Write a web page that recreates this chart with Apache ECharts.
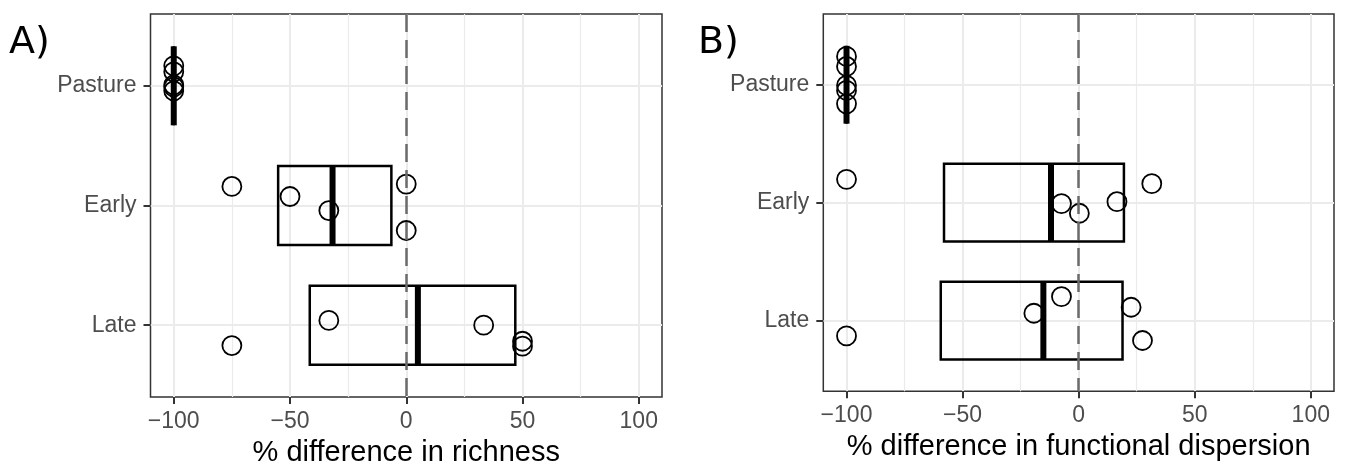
<!DOCTYPE html>
<html>
<head>
<meta charset="utf-8">
<script src="https://cdn.jsdelivr.net/npm/echarts@6/dist/echarts.min.js"></script>
<style>
  html, body { margin: 0; padding: 0; background: #fff; }
  #chart { width: 1346px; height: 465px; }
</style>
</head>
<body>
<div id="chart"></div>
<script>
// categories, top to bottom
const categories = ["Pasture", "Early", "Late"];
const xTicks = [-100, -50, 0, 50, 100];
const xMinorTicks = [-75, -25, 25, 75];

// A) richness: crossbar low / mean / high per category
const richLow = [-100, -55.1, -41.5];
const richMean = [-100, -31.7, 5.0];
const richHigh = [-100, -6.4, 46.9];
// points per category and their vertical jitter (in category units)
const richPoints = [
  [-100, -100, -100, -100, -100],
  [-75, -50, -33.3, 0, 0],
  [-75, -33.3, 33.3, 50, 50]
];
const richJitter = [
  [-0.167, -0.117, -0.008, 0.01, 0.042],
  [-0.159, -0.075, 0.042, -0.179, 0.209],
  [0.17, -0.04, 0, 0.134, 0.175]
];

// B) functional dispersion
const dispLow = [-100, -58.0, -59.4];
const dispMean = [-100, -11.9, -15.2];
const dispHigh = [-100, 19.5, 18.9];
const dispPoints = [
  [-100, -100, -100, -100, -100],
  [-100, -7.4, 0.3, 16.5, 31.5],
  [-100, -19.3, -7.4, 22.6, 27.5]
];
const dispJitter = [
  [-0.24, -0.155, 0.006, 0.048, 0.162],
  [-0.198, 0.008, 0.09, -0.008, -0.161],
  [0.13, -0.062, -0.203, -0.113, 0.169]
];

const boxHalf = 0.33;
const labelFont = "Liberation Sans";

const chart = echarts.init(document.getElementById("chart"));

function crossbarItem(params, api) {
  const y = api.value(0);
  const a = api.coord([api.value(1), y - boxHalf]);
  const b = api.coord([api.value(3), y + boxHalf]);
  const m1 = api.coord([api.value(2), y - boxHalf]);
  const m2 = api.coord([api.value(2), y + boxHalf]);
  const top = Math.min(a[1], b[1]);
  const h = Math.abs(b[1] - a[1]);
  return {
    type: "group",
    children: [
      {
        type: "rect",
        shape: { x: a[0], y: top, width: b[0] - a[0], height: h },
        style: { fill: "none", stroke: "#000", lineWidth: 2.5 }
      },
      {
        type: "line",
        shape: { x1: m1[0], y1: m1[1], x2: m2[0], y2: m2[1] },
        style: { stroke: "#000", lineWidth: 6 }
      }
    ]
  };
}

function barData(low, mean, high) {
  return categories.map((c, i) => [i + 1, low[i], mean[i], high[i]]);
}

function pointData(points, jitter) {
  const out = [];
  points.forEach((vals, i) => {
    vals.forEach((v, j) => out.push([v, i + 1 + jitter[i][j]]));
  });
  return out;
}

const fmtX = v => (v < 0 ? "\u2212" + Math.abs(v) : String(v));

function mainX(gridIndex, name) {
  return {
    type: "value", gridIndex: gridIndex, min: -110, max: 110,
    name: name, nameLocation: "middle", nameGap: 41,
    nameTextStyle: { fontFamily: labelFont, fontSize: 29, color: "#000" },
    axisLine: { show: false, onZero: false },
    axisTick: { show: true, length: 7, customValues: xTicks, lineStyle: { color: "#333", width: 2 } },
    axisLabel: { customValues: xTicks, formatter: fmtX, margin: 13, fontFamily: labelFont, fontSize: 23, color: "#4d4d4d" },
    splitLine: { show: true, lineStyle: { color: "#ebebeb", width: 2 } }
  };
}

function minorX(gridIndex) {
  return {
    type: "value", gridIndex: gridIndex, min: -110, max: 110, position: "top",
    axisLine: { show: false, onZero: false },
    axisTick: { show: false, customValues: xMinorTicks },
    axisLabel: { show: false, customValues: xMinorTicks },
    splitLine: { show: true, lineStyle: { color: "#ebebeb", width: 1.2 } }
  };
}

function catY(gridIndex) {
  return {
    type: "value", gridIndex: gridIndex, min: 0.4, max: 3.6, inverse: true,
    axisLine: { show: false, onZero: false },
    axisTick: { show: true, length: 7, customValues: [1, 2, 3], lineStyle: { color: "#333", width: 2 } },
    axisLabel: {
      customValues: [1, 2, 3], margin: 14,
      formatter: v => categories[Math.round(v) - 1],
      fontFamily: labelFont, fontSize: 23, color: "#4d4d4d"
    },
    splitLine: { show: true, lineStyle: { color: "#ebebeb", width: 2 } }
  };
}

function panelSeries(xIdx, yIdx, low, mean, high, points, jitter) {
  return [
    {
      type: "line", xAxisIndex: xIdx, yAxisIndex: yIdx, data: [], z: 2,
      markLine: {
        silent: true, symbol: "none", label: { show: false },
        lineStyle: { color: "#6b6b6b", width: 2.5, type: [18, 8] },
        data: [{ xAxis: 0 }]
      }
    },
    {
      type: "custom", xAxisIndex: xIdx, yAxisIndex: yIdx, z: 3,
      renderItem: crossbarItem,
      encode: { x: [1, 2, 3], y: 0 },
      data: barData(low, mean, high)
    },
    {
      type: "scatter", xAxisIndex: xIdx, yAxisIndex: yIdx, z: 4,
      symbol: "circle", symbolSize: 19,
      itemStyle: { color: "rgba(0,0,0,0)", borderColor: "#000", borderWidth: 1.8, opacity: 1 },
      data: pointData(points, jitter)
    }
  ];
}

chart.setOption({
  animation: false,
  grid: [
    { left: 150.5, top: 14, width: 511.5, height: 383, outerBoundsMode: "none", containLabel: false,
      show: true, borderColor: "#333", borderWidth: 1.5, backgroundColor: "#fff" },
    { left: 823.3, top: 14, width: 510.7, height: 377.3, outerBoundsMode: "none", containLabel: false,
      show: true, borderColor: "#333", borderWidth: 1.5, backgroundColor: "#fff" }
  ],
  graphic: [
    { type: "text", left: 9, top: 24, style: { text: "A)", font: "38px 'DejaVu Sans'", fill: "#000" } },
    { type: "text", left: 698, top: 24, style: { text: "B)", font: "38px 'DejaVu Sans'", fill: "#000" } }
  ],
  xAxis: [
    mainX(0, "% difference in richness"),
    minorX(0),
    mainX(1, "% difference in functional dispersion"),
    minorX(1)
  ],
  yAxis: [catY(0), catY(1)],
  series: [
    ...panelSeries(0, 0, richLow, richMean, richHigh, richPoints, richJitter),
    ...panelSeries(2, 1, dispLow, dispMean, dispHigh, dispPoints, dispJitter)
  ]
});
</script>
</body>
</html>
